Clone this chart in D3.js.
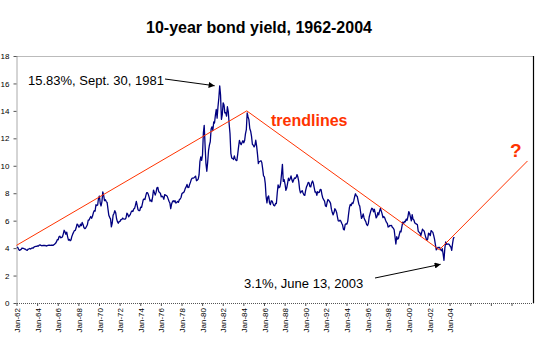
<!DOCTYPE html>
<html><head><meta charset="utf-8">
<script src="https://cdn.jsdelivr.net/npm/d3@7/dist/d3.min.js"></script>
<style>body{margin:0;background:#fff}svg{display:block;font-family:Arial,"Liberation Sans",sans-serif}</style>
</head><body><svg id="c" width="545" height="340"></svg>
<script>
const startYear = 1962;
// Monthly 10-year yields (%), Jan 1962 .. Jun 2004
const yields = [
4.08,4.04,3.93,3.84,3.87,3.91,4.01,3.98,3.98,3.93,3.92,3.86,
3.83,3.92,3.93,3.97,3.93,3.99,4.02,4.00,4.08,4.11,4.12,4.13,
4.17,4.15,4.22,4.23,4.20,4.17,4.19,4.19,4.20,4.19,4.15,4.18,
4.19,4.21,4.21,4.20,4.21,4.21,4.20,4.25,4.29,4.35,4.45,4.62,
4.61,4.83,4.87,4.75,4.78,4.81,5.02,5.30,5.18,5.01,5.16,4.84,
4.58,4.63,4.54,4.59,4.85,5.02,5.16,5.28,5.30,5.48,5.75,5.70,
5.53,5.56,5.74,5.64,5.87,5.72,5.50,5.42,5.46,5.58,5.70,6.03,
6.04,6.19,6.30,6.17,6.32,6.57,6.72,6.69,7.16,7.10,7.14,7.65,
7.79,7.24,7.07,7.39,8.10,7.84,7.46,7.53,7.39,7.33,6.84,6.39,
6.24,6.11,5.55,5.83,6.39,6.52,6.73,6.58,6.14,5.93,5.81,5.93,
5.95,6.08,6.07,6.19,6.13,6.11,6.11,6.21,6.55,6.48,6.28,6.36,
6.46,6.64,6.71,6.67,6.85,6.90,7.13,7.40,7.09,6.79,6.73,6.74,
6.99,6.96,7.21,7.51,7.58,7.54,7.81,8.04,8.04,7.90,7.68,7.43,
7.50,7.39,7.73,8.23,8.06,7.86,8.06,8.40,8.43,8.14,8.05,8.00,
7.74,7.79,7.73,7.56,7.90,7.86,7.83,7.77,7.59,7.41,7.29,6.87,
7.21,7.39,7.46,7.37,7.46,7.28,7.33,7.40,7.34,7.52,7.58,7.69,
7.96,8.03,8.04,8.15,8.35,8.46,8.64,8.41,8.42,8.64,8.81,9.01,
9.10,9.10,9.12,9.18,9.25,8.91,8.95,9.03,9.33,10.30,10.65,10.39,
10.80,12.41,12.95,11.47,10.18,9.60,10.25,11.10,11.51,11.75,12.68,12.84,
12.57,13.19,13.12,13.68,14.10,13.47,14.28,14.94,15.83,15.15,13.39,13.72,
14.59,14.43,13.86,13.87,13.62,14.30,13.95,13.06,12.34,10.91,10.55,10.54,
10.46,10.72,10.51,10.40,10.38,10.85,11.38,11.85,11.65,11.54,11.69,11.83,
11.67,11.84,12.32,12.63,13.85,13.56,13.36,12.72,12.52,12.16,11.57,11.50,
11.38,11.51,11.86,11.43,10.85,10.16,10.31,10.33,10.37,10.24,9.78,9.26,
9.19,8.70,7.78,7.30,7.71,7.80,7.30,7.17,7.45,7.43,7.25,7.11,
7.08,7.25,7.25,8.02,8.61,8.40,8.45,8.76,9.42,10.10,8.86,8.99,
8.67,8.21,8.37,8.72,9.09,8.92,9.06,9.26,8.98,8.80,8.96,9.11,
9.09,9.17,9.36,9.18,8.86,8.28,8.02,8.11,8.19,8.01,7.87,7.84,
8.21,8.47,8.59,8.79,8.76,8.48,8.47,8.75,8.89,8.72,8.39,8.08,
8.09,7.85,8.11,8.04,8.07,8.28,8.27,7.90,7.65,7.53,7.42,7.09,
7.03,7.34,7.54,7.48,7.39,7.26,6.84,6.59,6.42,6.59,6.87,6.77,
6.60,6.26,5.98,5.97,6.04,5.96,5.81,5.68,5.36,5.33,5.72,5.77,
5.75,5.97,6.48,6.97,7.18,7.10,7.30,7.24,7.46,7.74,7.96,7.81,
7.78,7.47,7.20,7.06,6.63,6.17,6.28,6.49,6.20,6.04,5.93,5.71,
5.65,5.81,6.27,6.51,6.74,6.91,6.87,6.64,6.83,6.53,6.20,6.30,
6.58,6.42,6.69,6.89,6.71,6.49,6.22,6.30,6.21,6.03,5.88,5.81,
5.54,5.57,5.65,5.64,5.65,5.50,5.46,5.34,4.81,4.30,4.83,4.65,
4.72,5.00,5.23,5.18,5.54,5.90,5.79,5.94,5.92,6.11,6.03,6.28,
6.66,6.52,6.26,5.99,6.44,6.10,6.05,5.83,5.80,5.74,5.72,5.24,
5.16,5.10,4.89,5.14,5.39,5.28,5.24,4.97,4.73,4.57,4.65,5.09,
5.04,4.91,5.28,5.21,5.16,4.93,4.65,4.26,3.87,3.94,4.05,4.03,
4.05,3.90,3.81,3.96,3.57,3.11,3.98,4.45,4.27,4.29,4.30,4.27,
4.15,4.08,3.83,4.35,4.72,4.80
];
// trendline vertices (decimal year, yield)
const trendYears  = [1962.0, 1984.33, 2003.0, 2011.55];
const trendValues = [4.2, 14.0, 3.88, 10.35];
// axis ticks
const xTickYears = [1962,1964,1966,1968,1970,1972,1974,1976,1978,1980,1982,1984,1986,1988,1990,1992,1994,1996,1998,2000,2002,2004,2006,2008,2010];
const xTickLabels = ["Jan-62","Jan-64","Jan-66","Jan-68","Jan-70","Jan-72","Jan-74","Jan-76","Jan-78","Jan-80","Jan-82","Jan-84","Jan-86","Jan-88","Jan-90","Jan-92","Jan-94","Jan-96","Jan-98","Jan-00","Jan-02","Jan-04","","",""];
const yTicks = [0,2,4,6,8,10,12,14,16,18];
const title = "10-year bond yield, 1962-2004";
const peakNote = {text:"15.83%, Sept. 30, 1981", year:1981.7, value:15.83};
const lowNote  = {text:"3.1%, June 13, 2003", year:2003.42, value:3.11};

const svg = d3.select("#c");
const L = 16.5, R = 533, T = 56, B = 303;
const x = d3.scaleTime().domain([new Date(1962,0,1), new Date(2012,1,1)]).range([L, R]);
const y = d3.scaleLinear().domain([0,18]).range([B, T]);
const dy = yr => { const Y=Math.floor(yr); return new Date(Y,0,1).getTime() + (yr-Y)*(new Date(Y+1,0,1)-new Date(Y,0,1)); };

// title
svg.append("text").attr("x",259).attr("y",33).attr("text-anchor","middle")
  .attr("font-size",16).attr("font-weight","bold").text(title);

// plot frame
svg.append("line").attr("x1",L).attr("x2",R).attr("y1",T+0.5).attr("y2",T+0.5)
  .attr("stroke","#777").attr("stroke-dasharray","1,1");
svg.append("line").attr("x1",R+0.5).attr("x2",R+0.5).attr("y1",T).attr("y2",B).attr("stroke","#000").attr("stroke-width",1.2);

// y axis
const ya = svg.append("g").attr("transform",`translate(${L},0)`)
  .call(d3.axisLeft(y).tickValues(yTicks).tickSize(3).tickSizeOuter(0).tickPadding(4));
ya.select(".domain").attr("stroke","#555").attr("stroke-dasharray","1,1");
ya.selectAll(".tick line").attr("stroke","#555");
ya.selectAll("text").attr("font-size",8).attr("font-family","Arial, 'Liberation Sans'").attr("fill","#000");

// x axis
const xa = svg.append("g").attr("transform",`translate(0,${B})`)
  .call(d3.axisBottom(x).tickValues(xTickYears.map(v=>new Date(v,0,1))).tickSize(3).tickSizeOuter(0)
    .tickFormat((d,i)=>xTickLabels[i]));
xa.select(".domain").attr("stroke","#555").attr("stroke-dasharray","1,1");
xa.selectAll(".tick line").attr("stroke","#555");
xa.selectAll("text").attr("font-size",8).attr("font-family","Arial, 'Liberation Sans'").attr("fill","#000")
  .attr("text-anchor","end").attr("transform","translate(3,5) rotate(-90)").attr("x",0).attr("y",0).attr("dy","0");

// data line
const line = d3.line().x((d,i)=>x(new Date(startYear, i, 15))).y(d=>y(d));
svg.append("path").datum(yields).attr("d",line).attr("fill","none")
  .attr("stroke","#000080").attr("stroke-width",1.3).attr("stroke-linejoin","round");

// trendlines
const tl = d3.line().x((d,i)=>x(dy(trendYears[i]))).y(d=>y(d));
svg.append("path").datum(trendValues).attr("d",tl).attr("fill","none")
  .attr("stroke","#ff3300").attr("stroke-width",1);

// labels
svg.append("text").attr("x",271).attr("y",126).attr("font-size",16).attr("font-weight","bold")
  .attr("fill","#ff3300").text("trendlines");
svg.append("text").attr("x",510).attr("y",157).attr("font-size",19).attr("font-weight","bold")
  .attr("fill","#ff3300").text("?");

// arrows
const defs = svg.append("defs");
defs.append("marker").attr("id","ah").attr("viewBox","0 0 10 10").attr("refX",10).attr("refY",5)
  .attr("markerWidth",7).attr("markerHeight",6).attr("markerUnits","userSpaceOnUse").attr("orient","auto")
  .append("path").attr("d","M0,0L10,5L0,10z").attr("fill","#000");

svg.append("text").attr("x",28).attr("y",85).attr("font-size",13).text(peakNote.text);
svg.append("line").attr("x1",165).attr("y1",79).attr("x2",x(dy(peakNote.year))-5).attr("y2",y(peakNote.value))
  .attr("stroke","#000").attr("stroke-width",1).attr("marker-end","url(#ah)");

svg.append("text").attr("x",244).attr("y",288).attr("font-size",13).text(lowNote.text);
svg.append("line").attr("x1",375).attr("y1",278).attr("x2",x(dy(lowNote.year))-3).attr("y2",y(lowNote.value)+4)
  .attr("stroke","#000").attr("stroke-width",1).attr("marker-end","url(#ah)");
</script></body></html>
